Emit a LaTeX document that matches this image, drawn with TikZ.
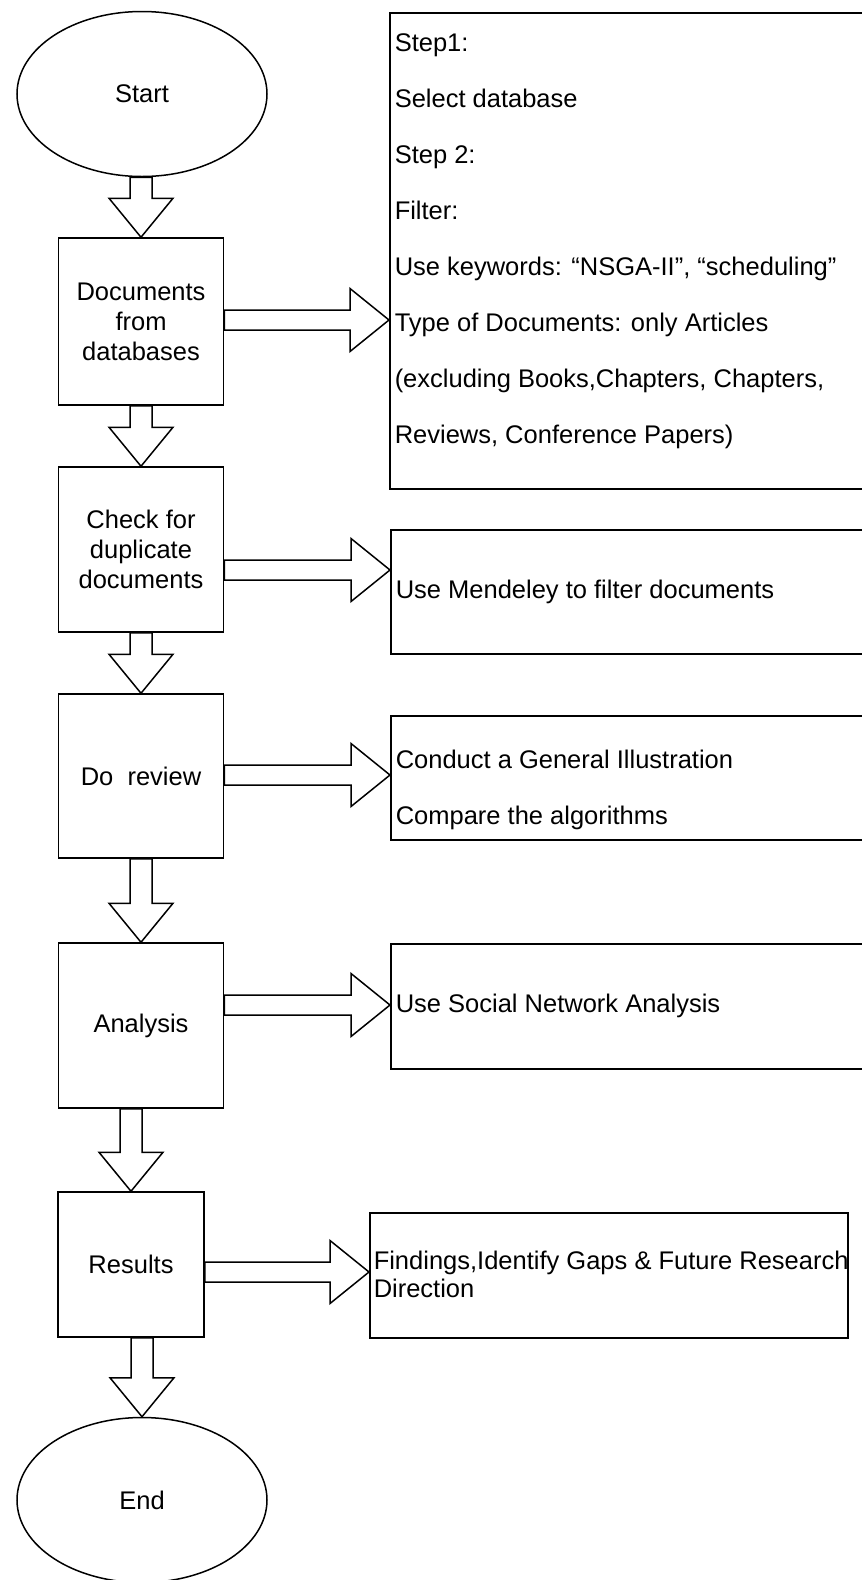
\documentclass[tikz,border=0pt]{standalone}
\usepackage{fontspec}
\setmainfont{Liberation Sans}
\usetikzlibrary{shapes.geometric,calc}
\begin{document}
\begin{tikzpicture}[x=1pt,y=-1pt,line width=1.5pt,
  term/.style={draw, ellipse, minimum width=250pt, minimum height=165pt, inner sep=0pt, font=\fontsize{25.5}{30}\selectfont},
  proc/.style={draw, rectangle, inner sep=0pt, align=center, minimum width=165pt, font=\fontsize{25.5}{30}\selectfont},
  info/.style={draw, rectangle, inner sep=0pt, anchor=north west},
  infotext/.style={anchor=west, align=left, inner sep=0pt, font=\fontsize{25.5}{56}\selectfont},
  arrowbox/.style={draw, fill=white},
  vblock/.style={to path={let \p1=(\tikztostart), \p2=(\tikztotarget) in
    (\x2-11pt,\y1) -- (\x2-11pt,\y2+39pt) -- (\x2-32pt,\y2+39pt) -- (\x2,\y2)
    -- (\x2+32pt,\y2+39pt) -- (\x2+11pt,\y2+39pt) -- (\x2+11pt,\y1) -- cycle}},
  hblock/.style={to path={let \p1=(\tikztostart), \p2=(\tikztotarget) in
    (\x1,\y1-10pt) -- (\x2-39pt,\y1-10pt) -- (\x2-39pt,\y1-31.5pt) -- (\x2,\y1)
    -- (\x2-39pt,\y1+31.5pt) -- (\x2-39pt,\y1+10pt) -- (\x1,\y1+10pt) -- cycle}}
]
\useasboundingbox (0,0) rectangle (862,1580);
\fill[white] (0,0) rectangle (862,1580);
\clip (0,0) rectangle (862,1580);

% main flow
\node[term] (start) at (142,94) {Start};
\node[proc, minimum height=167pt] (docs) at (141,321.5) {Documents\\from\\databases};
\node[proc, minimum height=165pt] (check) at (141,549.5) {Check for\\duplicate\\documents};
\node[proc, minimum height=164pt] (review) at (141,776) {Do\ \ review};
\node[proc, minimum height=165pt] (analysis) at (141,1025.5) {Analysis};
\node[proc, minimum width=146pt, minimum height=145pt] (results) at (131,1264.5) {Results};
\node[term] (end) at (142,1500) {End};

% side boxes
\node[info, minimum width=500pt, minimum height=476pt] (b1) at (389,12) {};
\node[info, minimum width=500pt, minimum height=124pt] (b2) at (390,529) {};
\node[info, minimum width=500pt, minimum height=124pt] (b3) at (390,715) {};
\node[info, minimum width=500pt, minimum height=125pt] (b4) at (390,943) {};
\node[info, minimum width=478pt, minimum height=125pt] (b5) at (369,1212) {};

\node[infotext] (t1) at (394,241) {Step1:\\Select database\\Step 2:\\Filter:\\Use keywords: “NSGA-II”, “scheduling”\\Type of Documents: only Articles\\(excluding Books,Chapters, Chapters,\\Reviews, Conference Papers)};
\node[infotext] (t2) at (395,592) {Use Mendeley to filter documents};
\node[infotext] (t3) at (395,789.5) {Conduct a General Illustration\\Compare the algorithms};
\node[infotext] (t4) at (395,1006) {Use Social Network Analysis};
\node[infotext, font=\fontsize{25.5}{28}\selectfont] (t5) at (373,1274) {Findings,Identify Gaps \& Future Research\\Direction};

% vertical block arrows
\draw[arrowbox] (start.south) to[vblock] (docs.north);
\draw[arrowbox] (docs.south) to[vblock] (check.north);
\draw[arrowbox] (check.south) to[vblock] (review.north);
\draw[arrowbox] (review.south) to[vblock] (analysis.north);
\draw[arrowbox] (analysis.south) to[vblock] (results.north);
\draw[arrowbox] (results.south) to[vblock] (end.north);

% horizontal block arrows
\draw[arrowbox] ([yshift=1.5pt]docs.east) to[hblock] (b1.west);
\draw[arrowbox] ([yshift=-20.5pt]check.east) to[hblock] (b2.west);
\draw[arrowbox] ([yshift=1pt]review.east) to[hblock] (b3.west);
\draw[arrowbox] ([yshift=20.5pt]analysis.east) to[hblock] (b4.west);
\draw[arrowbox] ([yshift=-7.5pt]results.east) to[hblock] (b5.west);
\end{tikzpicture}
\end{document}
